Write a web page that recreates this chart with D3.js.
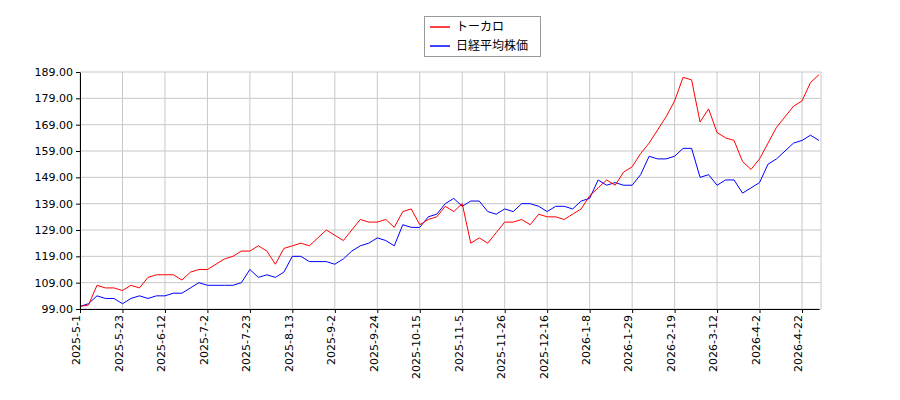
<!DOCTYPE html>
<html><head><meta charset="utf-8">
<script src="https://cdn.jsdelivr.net/npm/d3@7"></script>
<style>body{margin:0;background:#fff;font-family:"DejaVu Sans",sans-serif;}</style>
</head><body><svg id="c" width="900" height="400"></svg>
<script>
// sampled every 3 trading days
var step = 3;
var tocalo = [100,100.5,108,107,107,106,108,107,111,112,112,112,110,113,114,114,116,118,119,121,121,123,121,116,122,123,124,123,126,129,127,125,129,133,132,132,133,130,136,137,131,133,134,138,136,139,124,126,124,128,132,132,133,131,135,134,134,133,135,137,142,145,148,146,151,153,158,162,167,172,178,187,186,170,175,166,164,163,155,152,156,162,168,172,176,178,185,188];
var nikkei = [100,101,104,103,103,101,103,104,103,104,104,105,105,107,109,108,108,108,108,109,114,111,112,111,113,119,119,117,117,117,116,118,121,123,124,126,125,123,131,130,130,134,135,139,141,138,140,140,136,135,137,136,139,139,138,136,138,138,137,140,141,148,146,147,146,146,150,157,156,156,157,160,160,149,150,146,148,148,143,145,147,154,156,159,162,163,165,163];
var xLabels = ["2025-5-1","2025-5-23","2025-6-12","2025-7-2","2025-7-23","2025-8-13","2025-9-2","2025-9-24","2025-10-15","2025-11-5","2025-11-26","2025-12-16","2026-1-8","2026-1-29","2026-2-19","2026-3-12","2026-4-2","2026-4-22"];
var yTicks = [99,109,119,129,139,149,159,169,179,189];

var svg = d3.select("#c");
var x = d3.scaleLinear().domain([0,(tocalo.length-1)*step]).range([80,819]);
var y = d3.scaleLinear().domain([99,189]).range([309,72]);
var tickIdx = xLabels.map(function(d,i){ return i*15; });

// grid
svg.append("g").selectAll("line").data(yTicks).enter().append("line")
  .attr("x1",80).attr("x2",821).attr("y1",function(d){return y(d);}).attr("y2",function(d){return y(d);})
  .attr("stroke","#c8c8c8");
svg.append("g").selectAll("line").data(tickIdx).enter().append("line")
  .attr("y1",72).attr("y2",309).attr("x1",function(d){return x(d);}).attr("x2",function(d){return x(d);})
  .attr("stroke","#c8c8c8");

var line = d3.line().x(function(d,i){return x(i*step);}).y(function(d){return y(d);});
svg.append("path").datum(nikkei).attr("d",line).attr("fill","none").attr("stroke","blue").attr("stroke-width",1);
svg.append("path").datum(tocalo).attr("d",line).attr("fill","none").attr("stroke","red").attr("stroke-width",1);

var ya = svg.append("g").attr("transform","translate(80,0)")
  .call(d3.axisLeft(y).tickValues(yTicks).tickFormat(d3.format(".2f")).tickSize(4).tickSizeOuter(0));
var xa = svg.append("g").attr("transform","translate(0,309)")
  .call(d3.axisBottom(x).tickValues(tickIdx).tickFormat(function(d,i){return xLabels[i];}).tickSize(4).tickSizeOuter(0));
ya.selectAll("text").attr("font-size",11).attr("fill","#000").attr("font-family","DejaVu Sans");
xa.selectAll("text").attr("font-size",11).attr("fill","#000").attr("font-family","DejaVu Sans")
  .attr("transform","rotate(-90)").attr("text-anchor","end").attr("x",-6).attr("y",-4).attr("dy","0.35em");
svg.selectAll(".domain").attr("stroke","#000");
svg.append("line").attr("x1",821).attr("x2",821).attr("y1",72).attr("y2",309).attr("stroke","#c8c8c8");

// legend
var lg = svg.append("g");
lg.append("rect").attr("x",424.5).attr("y",16.5).attr("width",116).attr("height",40).attr("fill","#fff").attr("stroke","#999");
var names = ["トーカロ","日経平均株価"], cols = ["red","blue"];
names.forEach(function(n,i){
  lg.append("line").attr("x1",430).attr("x2",450).attr("y1",27+i*19).attr("y2",27+i*19).attr("stroke",cols[i]).attr("stroke-width",1.5);
  lg.append("text").attr("x",456).attr("y",31+i*19).attr("font-size",12).attr("font-family","Noto Sans CJK JP").text(n);
});
</script></body></html>
